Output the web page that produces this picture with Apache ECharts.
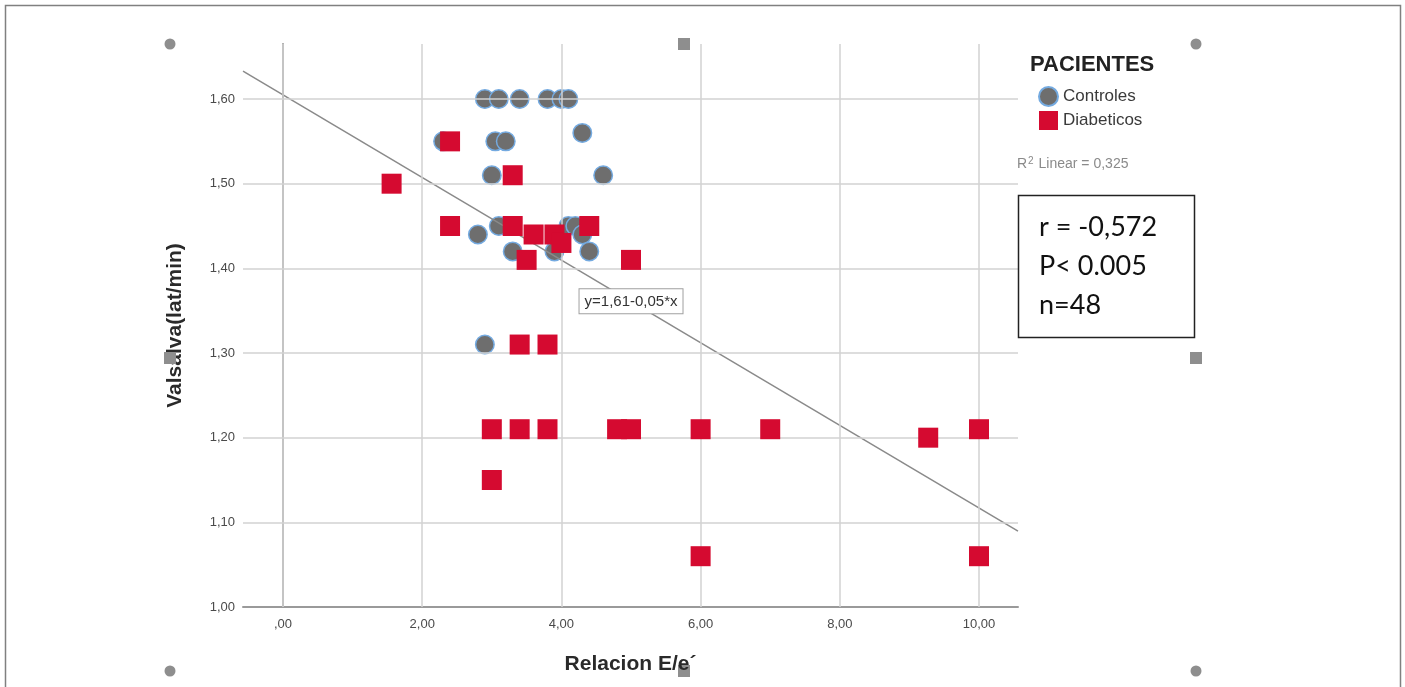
<!DOCTYPE html>
<html>
<head>
<meta charset="utf-8">
<script src="https://cdn.jsdelivr.net/npm/echarts@6/dist/echarts.min.js"></script>
<style>html,body{margin:0;padding:0;background:#fff}#c{width:1405px;height:687px}</style>
</head>
<body>
<div id="c"></div>
<script>
// ---- data ----
const controlsX = [2.9, 3.1, 3.4, 3.8, 4.0, 4.1, 2.3, 3.05, 3.2, 4.3, 3.0, 4.6, 3.1, 4.1, 4.2, 2.8, 4.3, 3.3, 3.9, 4.4, 2.9];
const controlsY = [1.60, 1.60, 1.60, 1.60, 1.60, 1.60, 1.55, 1.55, 1.55, 1.56, 1.51, 1.51, 1.45, 1.45, 1.45, 1.44, 1.44, 1.42, 1.42, 1.42, 1.31];
const diabX = [2.4, 1.56, 3.3, 2.4, 3.3, 3.6, 3.9, 4.0, 4.4, 3.5, 5.0, 3.4, 3.8, 3.0, 3.4, 3.8, 4.8, 5.0, 6.0, 7.0, 9.27, 10.0, 3.0, 6.0, 10.0];
const diabY = [1.55, 1.50, 1.51, 1.45, 1.45, 1.44, 1.44, 1.43, 1.45, 1.41, 1.41, 1.31, 1.31, 1.21, 1.21, 1.21, 1.21, 1.21, 1.21, 1.21, 1.20, 1.21, 1.15, 1.06, 1.06];
const xTicks = [0, 2, 4, 6, 8, 10];
const yTicks = [1.0, 1.1, 1.2, 1.3, 1.4, 1.5, 1.6];
const xRange = [-0.575, 10.56];
const yRange = [1.0, 1.665];
const fitIntercept = 1.605;
const fitSlope = -0.0488;
const fitLabelX = 5;
const fitLabel = 'y=1,61-0,05*x';
const seriesNames = ['Controles', 'Diabeticos'];
const legendTitle = 'PACIENTES';
const r2Parts = ['R', '2', ' Linear = 0,325'];
const statsLines = ['r = -0,572', 'P< 0.005', 'n=48'];
const xTitle = 'Relacion E/e´';
const yTitle = 'Valsalva(lat/min)';

const fmt = v => { const s = v.toFixed(2).replace('.', ','); return s.startsWith('0,') ? s.slice(1) : s; };
const fit = x => fitIntercept + fitSlope * x;
const zip = (a, b) => a.map((v, i) => [v, b[i]]);

const chart = echarts.init(document.getElementById('c'), null, {renderer: 'canvas'});
const FF = '"Liberation Sans", Arial, sans-serif';
const handle = '#8e8e8e';

const option = {
  backgroundColor: '#fff',
  animation: false,
  textStyle: {fontFamily: FF},
  grid: {left: 243, top: 44, width: 775, height: 563, containLabel: false},
  xAxis: {
    type: 'value', min: xRange[0], max: xRange[1],
    axisLine: {show: true, lineStyle: {color: '#9a9a9a', width: 2}},
    axisTick: {show: false},
    splitLine: {show: false},
    axisLabel: {customValues: xTicks, formatter: fmt, color: '#4a4a4a', fontSize: 13, margin: 11, fontFamily: FF},
    name: xTitle, nameLocation: 'middle', nameGap: 47,
    nameTextStyle: {fontSize: 21, fontWeight: 'bold', color: '#2a2a2a', fontFamily: FF}
  },
  yAxis: {
    type: 'value', min: yRange[0], max: yRange[1],
    axisLine: {show: true, lineStyle: {color: '#9a9a9a', width: 2}},
    axisTick: {show: false},
    splitLine: {show: false},
    axisLabel: {customValues: yTicks, formatter: fmt, color: '#4a4a4a', fontSize: 13, margin: 8, fontFamily: FF},
    name: yTitle, nameLocation: 'middle', nameGap: 57, nameRotate: 90,
    nameTextStyle: {fontSize: 21, fontWeight: 'bold', color: '#2a2a2a', fontFamily: FF}
  },
  legend: {
    data: seriesNames, orient: 'vertical', left: 1038, top: 86, padding: 0,
    itemWidth: 19, itemHeight: 19, itemGap: 4,
    textStyle: {fontSize: 17, color: '#3a3a3a', fontFamily: FF}
  },
  series: [
    {
      type: 'scatter', name: 'grid', data: [], z: 1, silent: true,
      markLine: {
        silent: true, symbol: 'none', label: {show: false}, animation: false,
        lineStyle: {color: '#d2d2d2', width: 1.5, type: 'solid'},
        data: xTicks.map(v => ({xAxis: v})).concat(yTicks.slice(1).map(v => ({yAxis: v})))
      }
    },
    {
      type: 'scatter', name: seriesNames[0], data: zip(controlsX, controlsY), z: 3,
      symbol: 'circle', symbolSize: 18.5,
      itemStyle: {color: '#6e6e6e', borderColor: '#74aae0', borderWidth: 1.5, opacity: 1}
    },
    {
      type: 'line', name: 'fit', data: [[xRange[0], fit(xRange[0])], [xRange[1], fit(xRange[1])]],
      showSymbol: false, symbol: 'none', z: 4, silent: true,
      lineStyle: {color: '#8a8a8a', width: 1.5},
      markPoint: {
        symbol: 'rect', symbolSize: 0, silent: true,
        data: [{coord: [fitLabelX, fit(fitLabelX)]}],
        label: {show: true, formatter: fitLabel, position: 'inside', color: '#333', fontSize: 15, fontFamily: FF,
                backgroundColor: '#fff', borderColor: '#a0a0a0', borderWidth: 1, padding: [5, 5, 4, 5]}
      }
    },
    {
      type: 'scatter', name: seriesNames[1], data: zip(diabX, diabY), z: 5,
      symbol: 'rect', symbolSize: 20,
      itemStyle: {color: '#d50a30', opacity: 1}
    }
  ],
  graphic: [
    {type: 'polyline', shape: {points: [[5.5, 687], [5.5, 5.5], [1400.5, 5.5], [1400.5, 687]]}, style: {fill: 'none', stroke: '#808080', lineWidth: 1.5}, silent: true},
    {type: 'text', left: 1030, top: 54, style: {text: legendTitle, font: 'bold 22px ' + FF, fill: '#222'}},
    {type: 'text', left: 1017, top: 156, style: {
      text: '{a|' + r2Parts[0] + '}{b|' + r2Parts[1] + '}{a|' + r2Parts[2] + '}',
      rich: {a: {fontSize: 14, fontFamily: FF, fill: '#8a8a8a', color: '#8a8a8a', verticalAlign: 'bottom'},
             b: {fontSize: 10, fontFamily: FF, fill: '#8a8a8a', color: '#8a8a8a', verticalAlign: 'top', padding: [0, 1, 5, 1]}}
    }},
    {type: 'rect', shape: {x: 1018.5, y: 195.5, width: 176, height: 142}, style: {fill: '#fff', stroke: '#222', lineWidth: 1.5}, z: 10},
    {type: 'text', left: 1039, top: 208, z: 11, style: {text: statsLines.join('\n'), font: '27px Lato, "Open Sans", sans-serif', lineHeight: 39, fill: '#111'}},
    {type: 'circle', shape: {cx: 170, cy: 44, r: 5.5}, style: {fill: handle}},
    {type: 'circle', shape: {cx: 1196, cy: 44, r: 5.5}, style: {fill: handle}},
    {type: 'circle', shape: {cx: 170, cy: 671, r: 5.5}, style: {fill: handle}},
    {type: 'circle', shape: {cx: 1196, cy: 671, r: 5.5}, style: {fill: handle}},
    {type: 'rect', shape: {x: 678, y: 38, width: 12, height: 12}, style: {fill: handle}},
    {type: 'rect', shape: {x: 678, y: 665, width: 12, height: 12}, style: {fill: handle}},
    {type: 'rect', shape: {x: 164, y: 352, width: 12, height: 12}, style: {fill: handle}, z: 20},
    {type: 'rect', shape: {x: 1190, y: 352, width: 12, height: 12}, style: {fill: handle}}
  ]
};
chart.setOption(option);
</script>
</body>
</html>
